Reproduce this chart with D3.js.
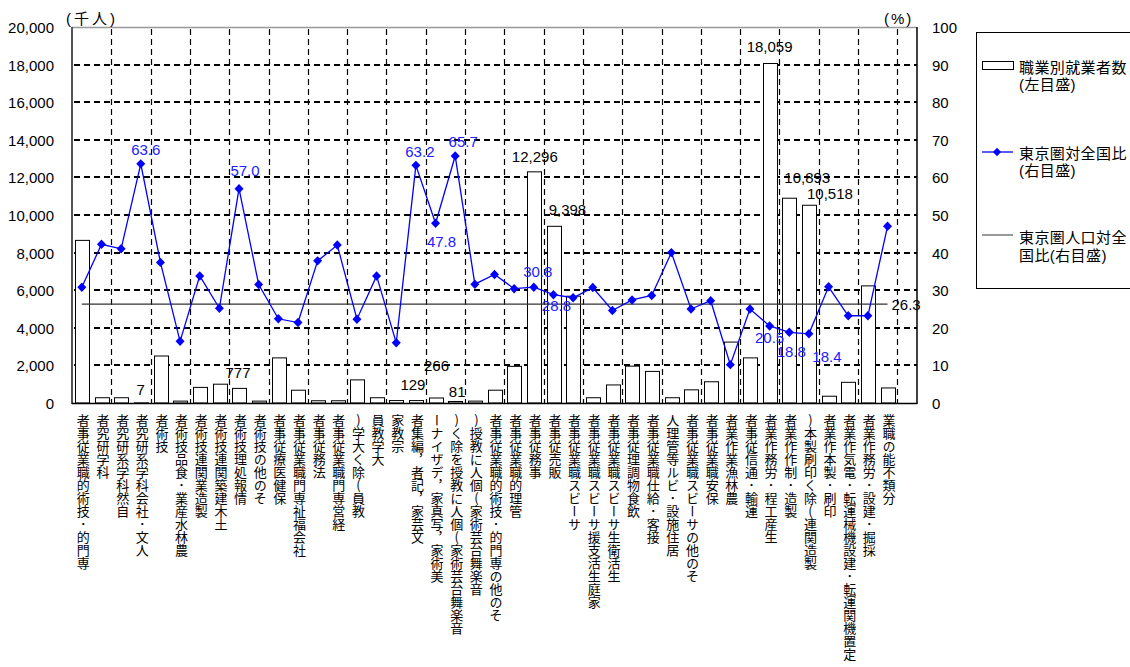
<!DOCTYPE html>
<html>
<head>
<meta charset="utf-8">
<script src="https://cdn.jsdelivr.net/npm/d3@7"></script>
<style>
  body { margin: 0; background: #fff; }
  svg { display: block; font-family: "Liberation Sans", "Noto Sans CJK JP", sans-serif; }
</style>
</head>
<body>
<script>
const categories = [
  '専門的･技術的職業従事者', '科学研究者', '自然科学系研究者', '人文･社会科学系研究者', '技術者',
  '農林水産業･食品技術者', '製造業関連技術者', '土木建築関連技術者', '情報処理技術者', 'その他の技術者',
  '保健医療従事者', '社会福祉専門職業従事者', '法務従事者', '経営専門職業従事者', '教員(除く大学)',
  '大学教員', '宗教家', '文芸家，記者，編集者', '美術家，写真家，デザイナー', '音楽舞台芸術家(個人に教授を除く)',
  '音楽舞台芸術家(個人に教授)', 'その他の専門的･技術的職業従事者', '管理的職業従事者', '事務従事者', '販売従事者',
  'サービス職業従事者', '家庭生活支援サービス職業従事者', '生活衛生サービス職業従事者', '飲食物調理従事者', '接客･給仕職業従事者',
  '居住施設･ビル等管理人', 'その他のサービス職業従事者', '保安職業従事者', '農林漁業作業者', '運輸･通信従事者',
  '生産工程･労務作業者', '製造･制作作業者', '製造関連(除く印刷製本)', '印刷･製本作業者', '定置機関運転･建設機械運転･電気作業者',
  '採掘･建設･労務作業者', '分類不能の職業'
];

// 職業別就業者数（千人）
const workers = [
  8650, 280, 280, 7, 2500,
  100, 830, 1000, 777, 100,
  2400, 680, 120, 120, 1230,
  280, 130, 129, 266, 81,
  100, 680, 1950, 12296, 9398,
  5680, 280, 960, 1960, 1680,
  280, 700, 1130, 3240, 2400,
  18059, 10893, 10518, 360, 1100,
  6230, 800
];

// 東京圏対全国比（％）
const tokyoShare = [
  30.8, 42.2, 41.0, 63.6, 37.4,
  16.4, 33.8, 25.2, 57.0, 31.5,
  22.4, 21.4, 37.8, 42.0, 22.3,
  33.8, 16.0, 63.2, 47.8, 65.7,
  31.6, 34.2, 30.4, 30.8, 28.8,
  28.0, 30.7, 24.6, 27.4, 28.6,
  40.0, 25.0, 27.2, 10.2, 25.0,
  20.5, 18.8, 18.4, 30.9, 23.2,
  23.2, 47.0
];

const populationShare = 26.3;
const workerTicks = [0, 2000, 4000, 6000, 8000, 10000, 12000, 14000, 16000, 18000, 20000];
const shareTicks = [0, 10, 20, 30, 40, 50, 60, 70, 80, 90, 100];
const labeled = [3, 8, 17, 18, 19, 23, 24, 35, 36, 37];

// label nudges [dx, dy] relative to bar top / marker
const barLabelNudge = {3: [0, -8], 8: [-1, -10], 17: [-3, -11], 18: [1, -27], 19: [2, -4],
  23: [1, -10], 24: [14, -11], 35: [0, -11], 36: [18, -15], 37: [21, -6]};
const shareLabelNudge = {3: [5, -9], 8: [6, -13], 17: [4, -8], 18: [6, 24], 19: [8, -9],
  23: [4, -10], 24: [3, 16], 35: [0, 17], 36: [2, 25], 37: [18, 28]};

const W = 1130, H = 667;
const L = 72, R = 917, T = 27, B = 403;
const blue = '#0000ff';

const svg = d3.select('body').append('svg').attr('width', W).attr('height', H);

// 43 slots, last one left empty
const slot = (R - L) / 43;
const x = d3.scaleBand().domain(categories).range([L, L + slot * 42]).paddingInner(0.31).paddingOuter(0.155);
const cx = (d) => x(d) + x.bandwidth() / 2;
const yL = d3.scaleLinear().domain([0, 20000]).range([B, T]);
const yR = d3.scaleLinear().domain([0, 100]).range([B, T]);
const xGrid = d3.scaleLinear().domain([0, 43]).range([L, R]);

// horizontal gridlines
svg.append('g')
  .selectAll('line')
  .data(workerTicks.slice(1, -1))
  .join('line')
  .attr('x1', L + 2)
  .attr('x2', R)
  .attr('y1', d => Math.round(yL(d)))
  .attr('y2', d => Math.round(yL(d)))
  .attr('stroke', '#000')
  .attr('stroke-width', 2)
  .attr('stroke-dasharray', '6 4');

// vertical gridlines every two categories
svg.append('g')
  .selectAll('line')
  .data(d3.range(2, 43, 2))
  .join('line')
  .attr('x1', k => Math.round(xGrid(k)) + 0.5)
  .attr('x2', k => Math.round(xGrid(k)) + 0.5)
  .attr('y1', T + 2)
  .attr('y2', B)
  .attr('stroke', '#000')
  .attr('stroke-width', 1.2)
  .attr('stroke-dasharray', '6 4');

// frame
svg.append('line').attr('x1', L).attr('x2', R).attr('y1', T + 0.5).attr('y2', T + 0.5)
  .attr('stroke', '#999').attr('stroke-width', 1.5);

// bars
svg.append('g').selectAll('rect')
  .data(workers)
  .join('rect')
  .attr('x', (d, i) => Math.round(x(categories[i])) + 0.5)
  .attr('y', d => yL(d))
  .attr('width', Math.round(x.bandwidth()))
  .attr('height', d => B - yL(d))
  .attr('fill', '#fff')
  .attr('stroke', '#000')
  .attr('stroke-width', 1);

// population reference line
svg.append('line')
  .attr('x1', cx(categories[0])).attr('x2', cx(categories[categories.length - 1]))
  .attr('y1', yR(populationShare)).attr('y2', yR(populationShare))
  .attr('stroke', '#333').attr('stroke-width', 1.2);
svg.append('text')
  .attr('x', cx(categories[categories.length - 1]) + 4)
  .attr('y', yR(populationShare) + 6)
  .attr('font-size', 15)
  .text(populationShare.toFixed(1));

// share line
const line = d3.line().x((d, i) => cx(categories[i])).y(d => yR(d));
svg.append('path')
  .datum(tokyoShare)
  .attr('d', line)
  .attr('fill', 'none')
  .attr('stroke', blue)
  .attr('stroke-width', 1.3);

const diamond = {
  draw(ctx, size) {
    const r = Math.sqrt(size) / 2;
    ctx.moveTo(0, -r * 1.05);
    ctx.lineTo(r, 0);
    ctx.lineTo(0, r * 1.05);
    ctx.lineTo(-r, 0);
    ctx.closePath();
  }
};
svg.append('g').selectAll('path')
  .data(tokyoShare)
  .join('path')
  .attr('transform', (d, i) => `translate(${cx(categories[i])},${yR(d)})`)
  .attr('d', d3.symbol(diamond, 81))
  .attr('fill', blue);

// axes lines
svg.append('line').attr('x1', L).attr('x2', L).attr('y1', T).attr('y2', B + 1)
  .attr('stroke', '#555').attr('stroke-width', 2);
svg.append('line').attr('x1', R).attr('x2', R).attr('y1', T).attr('y2', B + 1)
  .attr('stroke', '#000').attr('stroke-width', 1.5);
svg.append('line').attr('x1', L).attr('x2', R).attr('y1', B + 0.5).attr('y2', B + 0.5)
  .attr('stroke', '#000').attr('stroke-width', 1.5);

// data labels
svg.append('g').selectAll('text')
  .data(labeled)
  .join('text')
  .attr('x', i => cx(categories[i]) + barLabelNudge[i][0])
  .attr('y', i => yL(workers[i]) + barLabelNudge[i][1])
  .attr('text-anchor', 'middle')
  .attr('font-size', 15)
  .attr('fill', '#000')
  .text(i => d3.format(',')(workers[i]));

svg.append('g').selectAll('text')
  .data(labeled)
  .join('text')
  .attr('x', i => cx(categories[i]) + shareLabelNudge[i][0])
  .attr('y', i => yR(tokyoShare[i]) + shareLabelNudge[i][1])
  .attr('text-anchor', 'middle')
  .attr('font-size', 15)
  .attr('fill', '#2020ff')
  .text(i => tokyoShare[i].toFixed(1));

// left axis labels
svg.append('g').selectAll('text')
  .data(workerTicks)
  .join('text')
  .attr('x', 54)
  .attr('y', d => yL(d) + 6)
  .attr('text-anchor', 'end')
  .attr('font-size', 15)
  .text(d => d3.format(',')(d));

// right axis labels
svg.append('g').selectAll('text')
  .data(shareTicks)
  .join('text')
  .attr('x', 932)
  .attr('y', d => yR(d) + 6)
  .attr('font-size', 15)
  .text(d => d);

// unit captions
svg.append('text').attr('x', 66).attr('y', 24).attr('font-size', 15).attr('letter-spacing', 3).text('(千人)');
svg.append('text').attr('x', 884).attr('y', 24).attr('font-size', 15).attr('letter-spacing', 2).text('(%)');

// category labels (glyphs upright, read bottom to top)
svg.append('g').selectAll('text')
  .data(categories)
  .join('text')
  .attr('x', d => cx(d) + 1.5)
  .attr('y', 414)
  .attr('font-family', '"Noto Sans CJK JP"')
  .attr('font-size', 13)
  .style('writing-mode', 'vertical-rl')
  .style('text-orientation', 'upright')
  .text(d => Array.from(d).reverse().join(''));

// legend
const lg = svg.append('g').attr('font-size', 15).attr('letter-spacing', 0.4);
lg.append('rect').attr('x', 976.5).attr('y', 32.5).attr('width', 200).attr('height', 256)
  .attr('fill', '#fff').attr('stroke', '#000');
lg.append('rect').attr('x', 982.5).attr('y', 61.5).attr('width', 31).attr('height', 8)
  .attr('fill', '#fff').attr('stroke', '#000');
lg.append('text').attr('x', 1019).attr('y', 73).text('職業別就業者数');
lg.append('text').attr('x', 1019).attr('y', 90).text('(左目盛)');

lg.append('line').attr('x1', 982).attr('x2', 1013).attr('y1', 152).attr('y2', 152)
  .attr('stroke', blue).attr('stroke-width', 1.3);
lg.append('path').attr('transform', 'translate(997,152)').attr('d', d3.symbol(diamond, 64)).attr('fill', blue);
lg.append('text').attr('x', 1019).attr('y', 159).text('東京圏対全国比');
lg.append('text').attr('x', 1019).attr('y', 176).text('(右目盛)');

lg.append('line').attr('x1', 982).attr('x2', 1013).attr('y1', 235).attr('y2', 235)
  .attr('stroke', '#555').attr('stroke-width', 1.2);
lg.append('text').attr('x', 1019).attr('y', 243).text('東京圏人口対全');
lg.append('text').attr('x', 1019).attr('y', 261).text('国比(右目盛)');

// footnote (cut off at the bottom edge, as in the source)
svg.append('text').attr('x', 84).attr('y', 679).attr('font-size', 14).text('(注)就業者数');
</script>
</body>
</html>
